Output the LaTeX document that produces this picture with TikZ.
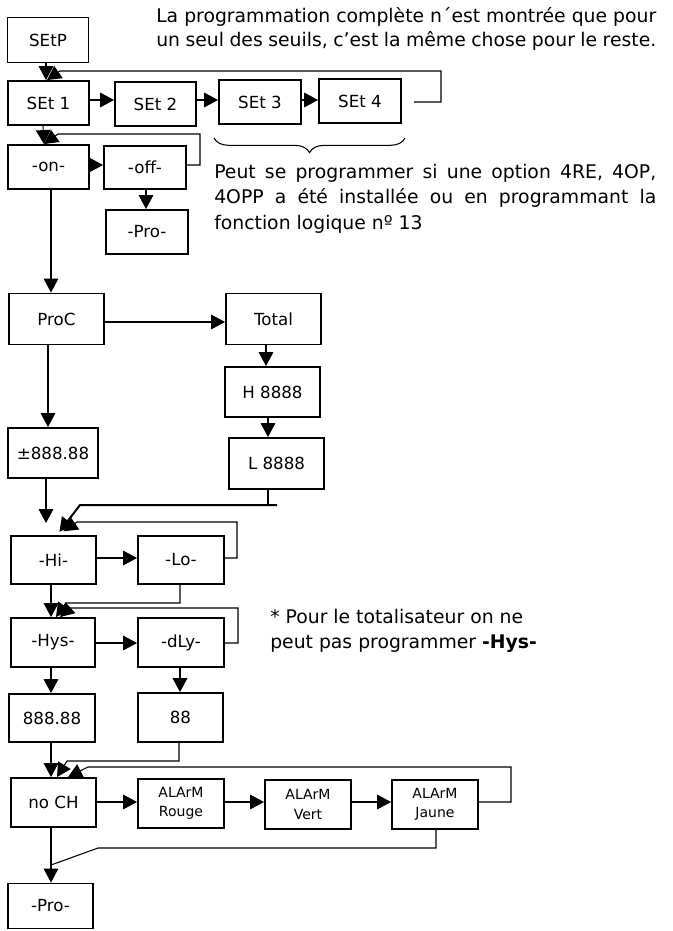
\documentclass[tikz,border=0pt]{standalone}
\usepackage{fontspec}
\setmainfont{DejaVu Sans}
\usetikzlibrary{arrows.meta,decorations.pathreplacing}
\begin{document}
\begin{tikzpicture}[x=0.75pt,y=-0.75pt,
  box/.style={draw, line width=1.4pt, inner sep=0pt, align=center, font=\fontsize{12.5}{15}\selectfont},
  sbox/.style={box, font=\fontsize{10.5}{14.5}\selectfont},
  sz/.style n args={2}{minimum width={#1*0.75pt}, minimum height={#2*0.75pt}},
  conn/.style={line width=0.8pt},
  arr/.style={conn, -{Triangle[length=10.5pt,width=11pt]}},
  txt/.style={inner sep=0pt, anchor=base west, font=\fontsize{14.1}{18.75}\selectfont}
]
\useasboundingbox (0,0) rectangle (672,931);

% boxes
\node[box, sz={81}{45}] (setp) at (48,40) {SEtP};
\node[box, sz={81}{44}] (set1) at (48.5,103) {SEt 1};
\node[box, sz={81}{44}] (set2) at (155.5,104) {SEt 2};
\node[box, sz={82}{44}] (set3) at (260,102) {SEt 3};
\node[box, sz={82}{44}] (set4) at (360,101) {SEt 4};
\node[box, sz={81}{44}] (on) at (48.5,167) {-on-};
\node[box, sz={82}{43}] (off) at (145,167.5) {-off-};
\node[box, sz={82}{44}] (pro1) at (147,232) {-Pro-};
\node[box, sz={95}{51}] (proc) at (56.5,319) {ProC};
\node[box, sz={95}{51}] (total) at (273.5,319) {Total};
\node[box, sz={95}{50}] (h) at (272.5,392) {H 8888};
\node[box, sz={95}{51}] (l) at (276.5,463.5) {L 8888};
\node[box, sz={90}{50}] (pm) at (53,453) {±888.88};
\node[box, sz={85}{48}] (hi) at (53.5,560) {-Hi-};
\node[box, sz={86}{48}] (lo) at (181,560) {-Lo-};
\node[box, sz={84}{49}] (hys) at (53,642.5) {-Hys-};
\node[box, sz={86}{49}] (dly) at (181,642.5) {-dLy-};
\node[box, sz={86}{48}] (n888) at (52,718) {888.88};
\node[box, sz={85}{49}] (n88) at (180.5,717.5) {88};
\node[box, sz={85}{49}] (noch) at (53.5,802.5) {no CH};
\node[sbox, sz={86}{49}] (rouge) at (181,803.5) {ALArM\\Rouge};
\node[sbox, sz={86}{49}] (vert) at (308,804.5) {ALArM\\Vert};
\node[sbox, sz={86}{49}] (jaune) at (435,804.5) {ALArM\\Jaune};
\node[box, sz={85}{45}] (pro2) at (50.5,906) {-Pro-};

% texts
\node[txt] (t1) at (156,23) {\makebox[375pt][s]{La programmation complète n´est montrée que pour}};
\node[txt] (t2) at (156,47) {\makebox[375pt][s]{un seul des seuils, c’est la même chose pour le reste.}};
\node[txt] (p1) at (214,178) {\makebox[331.5pt][s]{Peut se programmer si une option 4RE, 4OP,}};
\node[txt] (p2) at (214,203) {\makebox[331.5pt][s]{4OPP a été installée ou en programmant la}};
\node[txt] (p3) at (214,229) {fonction logique nº 13};
\node[txt] (n1) at (270,623) {* Pour le totalisateur on ne};
\node[txt] (n2) at (270,648) {peut pas programmer \textbf{-Hys-}};

% brace
\draw[decorate, decoration={brace, mirror, amplitude=11pt}, line width=0.8pt] (214,138) -- (405,138);

% connectors top part
\draw[arr] (setp.south -| 46,0) -- (set1.north -| 46,0);
\coordinate (c4) at (414,102);
\draw[arr] (c4) -- (441,102) -- (441,71) -- (60,71) -- (set1.north -| 47,0);
\draw[arr] (set1.east |- 0,100) -- (set2.west |- 0,100);
\draw[arr] (set2.east |- 0,100) -- (set3.west |- 0,100);
\draw[arr] (set3.east |- 0,100) -- (set4.west |- 0,100);
\draw[arr] (set1.south -| 43,0) -- (on.north -| 44,0);
\draw[arr] (off.east |- 0,165) -- (200,165) -- (200,134) -- (58,134) -- (on.north -| 44,0);
\draw[arr] (on.east |- 0,165) -- (off.west |- 0,165);
\draw[arr] (off.south -| 146,0) -- (pro1.north -| 146,0);
\draw[arr] (on.south -| 51,0) -- (proc.north -| 51,0);
\draw[arr] (proc.east |- 0,322) -- (total.west |- 0,322);
\draw[arr] (proc.south -| 48,0) -- (pm.north -| 48,0);
\draw[arr] (total.south -| 266,0) -- (h.north -| 266,0);
\draw[arr] (h.south -| 268,0) -- (l.north -| 268,0);

% to -Hi-
\draw[conn] (l.south -| 268,0) -- (268,505);
\draw[arr, line width=1.5pt, shorten >=3pt] (277,505) -- (80,505) -- (hi.north -| 57,0);
\draw[arr, shorten >=9pt] (pm.south -| 46,0) -- (hi.north -| 46,0);
\draw[arr, shorten >=5pt] (lo.east |- 0,558) -- (237,558) -- (237,522) -- (77,522) -- (hi.north -| 58,0);
\draw[arr] (hi.east |- 0,558) -- (lo.west |- 0,558);

% to -Hys-
\draw[arr] (hi.south -| 51,0) -- (hys.north -| 51,0);
\draw[arr] (lo.south -| 180,0) -- (180,603) -- (66,603) -- (hys.north -| 56,0);
\draw[arr] (dly.east |- 0,643) -- (238,643) -- (238,608) -- (70,608) -- (hys.north -| 60,0);
\draw[arr] (hys.east |- 0,643) -- (dly.west |- 0,643);
\draw[arr] (hys.south -| 51,0) -- (n888.north -| 51,0);
\draw[arr] (dly.south -| 180,0) -- (n88.north -| 180,0);

% to no CH
\draw[arr] (n888.south -| 51,0) -- (noch.north -| 51,0);
\draw[arr] (n88.south -| 179,0) -- (179,761) -- (67,761) -- (noch.north -| 57,0);
\draw[arr] (jaune.east |- 0,802) -- (511,802) -- (511,767) -- (88,767) -- (noch.north -| 68,0);
\draw[arr] (noch.east |- 0,802) -- (rouge.west |- 0,802);
\draw[arr] (rouge.east |- 0,802) -- (vert.west |- 0,802);
\draw[arr] (vert.east |- 0,802) -- (jaune.west |- 0,802);

% to -Pro-
\draw[arr] (noch.south -| 51,0) -- (pro2.north -| 51,0);
\coordinate (join) at (51,865);
\draw[conn] (jaune.south -| 436,0) -- (436,848) -- (98,848) -- (join);
\end{tikzpicture}
\end{document}
